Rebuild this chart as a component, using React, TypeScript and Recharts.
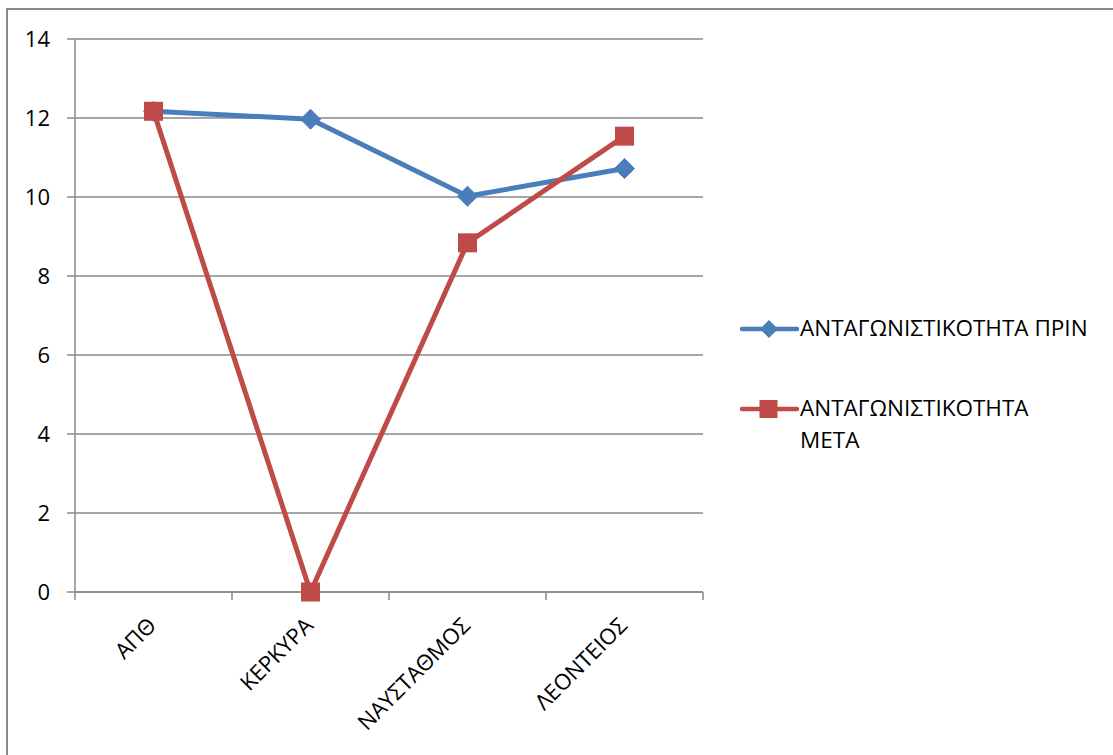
import React from 'react';
import { LineChart, Line, XAxis, YAxis, CartesianGrid, Legend } from 'recharts';

const categories = ['ΑΠΘ', 'ΚΕΡΚΥΡΑ', 'ΝΑΥΣΤΑΘΜΟΣ', 'ΛΕΟΝΤΕΙΟΣ'];
const before = [12.17, 11.97, 10.02, 10.72];
const after = [12.17, 0, 8.84, 11.54];
const yTicks = [0, 2, 4, 6, 8, 10, 12, 14];
const boundaryTicks = [-0.5, 0.5, 1.5, 2.5, 3.5];
const seriesNames = ['ΑΝΤΑΓΩΝΙΣΤΙΚΟΤΗΤΑ ΠΡΙΝ', 'ΑΝΤΑΓΩΝΙΣΤΙΚΟΤΗΤΑ ΜΕΤΑ'];

const data = categories.map((name, i) => ({ name, idx: i, before: before[i], after: after[i] }));

const BLUE = '#4A7EBB';
const RED = '#BE4B48';
const GRID = '#898989';
const FONT = '"Open Sans", sans-serif';
const FS = 22;
const LFS = 22.5;

const Diamond = (props: any) => {
  const { cx, cy } = props;
  if (cx == null || cy == null) return null;
  const r = 10;
  return <path d={`M${cx},${cy - r}L${cx + r},${cy}L${cx},${cy + r}L${cx - r},${cy}Z`} fill={BLUE} stroke={BLUE} strokeWidth={1} />;
};

const Square = (props: any) => {
  const { cx, cy } = props;
  if (cx == null || cy == null) return null;
  const s = 19;
  return <rect x={cx - s / 2} y={cy - s / 2} width={s} height={s} fill={RED} />;
};

const XTick = (props: any) => {
  const { x, y, payload } = props;
  return (
    <g transform={`translate(${x + 4},${y + 34})`}>
      <text x={0} y={0} textAnchor="end" transform="rotate(-45)" fill="#000" fontSize={FS} fontFamily={FONT}>
        {payload.value}
      </text>
    </g>
  );
};

const EmptyTick = () => <g />;

const LegendContent = () => {
  const words2 = seriesNames[1].split(' ');
  return (
    <div style={{ position: 'relative', width: 373, height: 160, fontFamily: FONT, fontSize: LFS, color: '#000' }}>
      <div style={{ position: 'absolute', left: 0, top: 0, width: 373, height: 40 }}>
        <svg width={60} height={40} style={{ position: 'absolute', left: 0, top: 0 }}>
          <line x1={2} y1={19} x2={57} y2={19} stroke={BLUE} strokeWidth={4.5} strokeLinecap="round" />
          <path d="M29,10L38,19L29,28L20,19Z" fill={BLUE} />
        </svg>
        <span style={{ position: 'absolute', left: 60, top: 2, whiteSpace: 'nowrap', lineHeight: '32px' }}>{seriesNames[0]}</span>
      </div>
      <div style={{ position: 'absolute', left: 0, top: 80, width: 373, height: 80 }}>
        <svg width={60} height={40} style={{ position: 'absolute', left: 0, top: 0 }}>
          <line x1={2} y1={19} x2={57} y2={19} stroke={RED} strokeWidth={4.5} strokeLinecap="round" />
          <rect x={19.5} y={10} width={18} height={18} fill={RED} />
        </svg>
        <span style={{ position: 'absolute', left: 60, top: 2, lineHeight: '32px', whiteSpace: 'nowrap' }}>
          {words2[0]}
          <br />
          {words2[1]}
        </span>
      </div>
    </div>
  );
};

export default function App() {
  return (
    <div style={{ position: 'absolute', left: 0, top: 0, width: 1113, height: 755, background: '#fff', overflow: 'hidden' }}>
      <div style={{ position: 'absolute', left: 6, top: 8, width: 1200, height: 800, borderLeft: '2px solid #8a8a8a', borderTop: '2px solid #8a8a8a' }} />
      <LineChart
        width={1113}
        height={755}
        data={data}
        margin={{ top: 39, right: 37, bottom: 0, left: 0 }}
        style={{ position: 'absolute', left: 0, top: 0 }}
      >
        <CartesianGrid vertical={false} stroke={GRID} strokeWidth={1.3} />
        <XAxis
          xAxisId="bounds"
          dataKey="idx"
          type="number"
          domain={[-0.5, 3.5]}
          ticks={boundaryTicks}
          height={1}
          tick={<EmptyTick />}
          tickLine={{ stroke: GRID, strokeWidth: 1.5 }}
          tickSize={8}
          axisLine={{ stroke: GRID, strokeWidth: 1.5 }}
          allowDataOverflow
        />
        <XAxis
          xAxisId="cat"
          dataKey="name"
          scale="band"
          height={162}
          tickLine={false}
          axisLine={false}
          tickSize={0}
          tickMargin={0}
          interval={0}
          tick={<XTick />}
        />
        <YAxis
          domain={[0, 14]}
          ticks={yTicks}
          width={75}
          tickSize={8}
          tickMargin={17}
          tickLine={{ stroke: GRID, strokeWidth: 1.5 }}
          axisLine={{ stroke: GRID, strokeWidth: 1.5 }}
          tick={{ fill: '#000', fontSize: FS, fontFamily: FONT }}
        />
        <Line
          xAxisId="cat"
          dataKey="before"
          name={seriesNames[0]}
          stroke={BLUE}
          strokeWidth={5}
          dot={<Diamond />}
          activeDot={false}
          isAnimationActive={false}
        />
        <Line
          xAxisId="cat"
          dataKey="after"
          name={seriesNames[1]}
          stroke={RED}
          strokeWidth={5}
          dot={<Square />}
          activeDot={false}
          isAnimationActive={false}
        />
        <Legend
          layout="vertical"
          align="right"
          verticalAlign="middle"
          content={<LegendContent />}
          wrapperStyle={{ position: 'absolute', left: 740, top: 310, width: 373, height: 160 }}
        />
      </LineChart>
    </div>
  );
}
